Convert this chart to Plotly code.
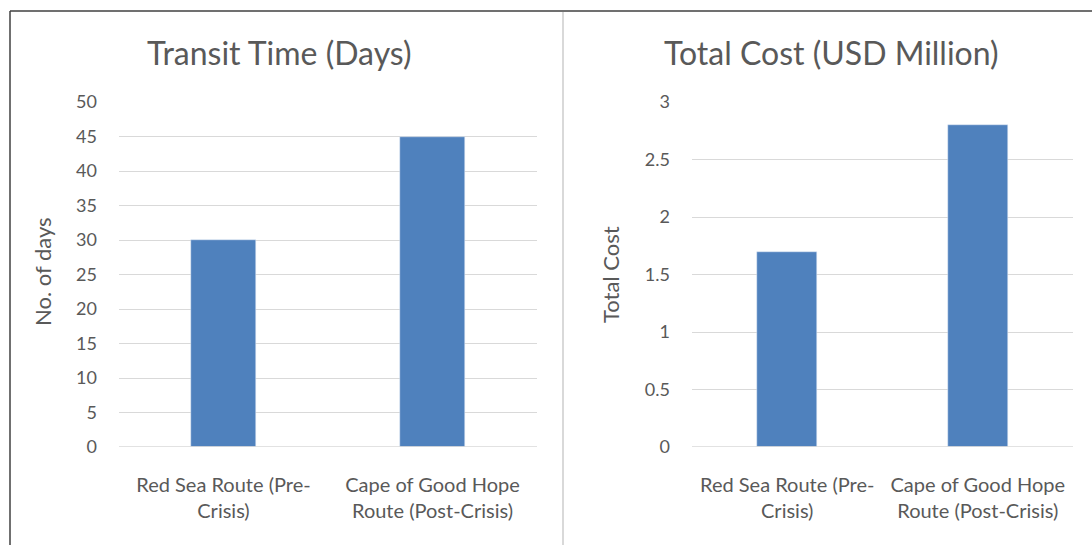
import plotly.graph_objects as go

categories = ["Red Sea Route (Pre-<br>Crisis)", "Cape of Good Hope<br>Route (Post-Crisis)"]
transit_days = [30, 45]
total_cost = [1.7, 2.8]
left_title = "Transit Time (Days)"
right_title = "Total Cost (USD Million)"
left_ytitle = "No. of days"
right_ytitle = "Total Cost"

W, H = 1092, 545
FONT = "Lato"
TXT = "#595959"
GRID = "#d9d9d9"
BAR = "#4f81bd"

def px(x):
    return x / W

def py(y):
    return 1 - y / H

fig = go.Figure()
fig.add_trace(go.Bar(x=categories, y=transit_days, marker_color=BAR, width=0.31,
                     xaxis="x", yaxis="y", showlegend=False))
fig.add_trace(go.Bar(x=categories, y=total_cost, marker_color=BAR, width=0.315,
                     xaxis="x2", yaxis="y2", showlegend=False))

x_common = dict(showline=False, zeroline=False, ticks="", automargin=False, showgrid=False,
                tickfont=dict(family=FONT, size=20, color=TXT), ticklabelstandoff=24)
y_common = dict(showline=False, zeroline=False, ticks="", automargin=False, showgrid=True,
                gridcolor=GRID, gridwidth=1.3,
                tickfont=dict(family=FONT, size=18, color=TXT))

fig.update_layout(
    width=W, height=H, margin=dict(l=0, r=0, t=0, b=0, autoexpand=False),
    paper_bgcolor="white", plot_bgcolor="white",
    font=dict(family=FONT, color=TXT),
    xaxis=dict(domain=[px(119), px(537)], anchor="y", **x_common),
    yaxis=dict(domain=[py(447), py(102)], anchor="x", range=[0, 50], dtick=5,
               ticklabelstandoff=21, **y_common),
    xaxis2=dict(domain=[px(692), px(1073)], anchor="y2", **x_common),
    yaxis2=dict(domain=[py(447), py(102)], anchor="x2", range=[0, 3], dtick=0.5,
                ticklabelstandoff=21, **y_common),
    bargap=0,
)

# zero baselines
for xr, yr in (("x", "y"), ("x2", "y2")):
    fig.add_shape(type="line", xref=f"{xr} domain", yref=yr, x0=0, x1=1, y0=0, y1=0,
                  line=dict(color=GRID, width=1.5), layer="above")

# chart borders
fig.add_shape(type="line", xref="paper", yref="paper", x0=px(10), x1=1, y0=py(11), y1=py(11),
              line=dict(color="#404040", width=1.5))
fig.add_shape(type="line", xref="paper", yref="paper", x0=px(10), x1=px(10), y0=py(11), y1=0,
              line=dict(color="#404040", width=1.5))
fig.add_shape(type="line", xref="paper", yref="paper", x0=px(563), x1=px(563), y0=py(12), y1=0,
              line=dict(color=GRID, width=2))

# titles
ann = dict(xref="paper", yref="paper", showarrow=False, xanchor="center", yanchor="middle")
fig.add_annotation(text=left_title, x=px(279), y=py(52),
                   font=dict(family=FONT, size=32, color=TXT), **ann)
fig.add_annotation(text=right_title, x=px(831), y=py(52),
                   font=dict(family=FONT, size=32, color=TXT), **ann)
fig.add_annotation(text=left_ytitle, x=px(42), y=py(272), textangle=-90,
                   font=dict(family=FONT, size=22, color=TXT), **ann)
fig.add_annotation(text=right_ytitle, x=px(610), y=py(275), textangle=-90,
                   font=dict(family=FONT, size=22, color=TXT), **ann)

fig.write_html("out.html")
